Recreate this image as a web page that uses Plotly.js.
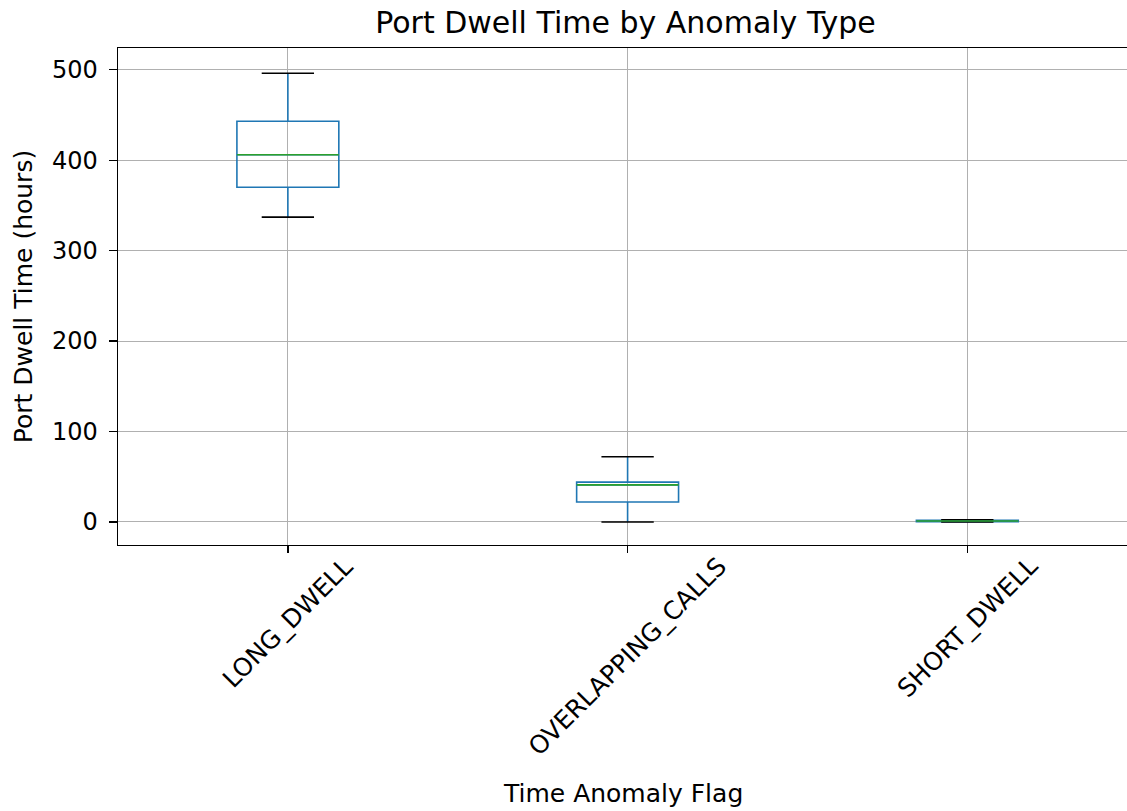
<!DOCTYPE html>
<html>
<head>
<meta charset="utf-8">
<script src="https://cdn.plot.ly/plotly-3.0.1.min.js"></script>
<style>html,body{margin:0;padding:0;overflow:hidden;background:#fff;}</style>
</head>
<body>
<div id="chart" style="width:1127px;height:811px;"></div>
<script>
const categories = ["LONG_DWELL", "OVERLAPPING_CALLS", "SHORT_DWELL"];
const lowerWhisker = [337, 0, 0];
const q1Values = [370, 22, 0.3];
const medianValues = [406, 41, 1.0];
const q3Values = [443, 44, 1.8];
const upperWhisker = [496, 72, 2.5];
const yTicks = [0, 100, 200, 300, 400, 500];

const pos = categories.map((c, i) => i);
const boxHalf = 0.15;
const capHalf = 0.077;

const traces = [];
traces.push({
  type: "box",
  x: pos,
  q1: q1Values,
  median: medianValues,
  q3: q3Values,
  lowerfence: lowerWhisker,
  upperfence: upperWhisker,
  width: boxHalf * 2,
  whiskerwidth: 0,
  line: {color: "#1f77b4", width: 1.6},
  fillcolor: "rgba(0,0,0,0)",
  boxpoints: false,
  hoverinfo: "skip",
  showlegend: false
});

// caps (black)
const capX = [], capY = [];
pos.forEach((p, i) => {
  [lowerWhisker[i], upperWhisker[i]].forEach(v => {
    capX.push(p - capHalf, p + capHalf, null);
    capY.push(v, v, null);
  });
});
traces.push({type: "scatter", mode: "lines", x: capX, y: capY,
  line: {color: "#000000", width: 1.6}, showlegend: false, hoverinfo: "skip"});

// medians (green)
const medX = [], medY = [];
pos.forEach((p, i) => {
  medX.push(p - boxHalf, p + boxHalf, null);
  medY.push(medianValues[i], medianValues[i], null);
});
traces.push({type: "scatter", mode: "lines", x: medX, y: medY,
  line: {color: "#2ca02c", width: 1.6}, showlegend: false, hoverinfo: "skip"});

const font = "DejaVu Sans, sans-serif";
const tickSize = 24, xTickSize = 25, labelSize = 25;

const annotations = categories.map((c, i) => ({
  x: pos[i], xref: "x", y: -0.008, yref: "paper",
  text: c, textangle: -45, showarrow: false,
  xanchor: "center", yanchor: "top",
  font: {family: font, size: xTickSize, color: "#000"}
}));
annotations.push({
  x: 0.5, xref: "paper", y: -0.499, yref: "paper",
  text: "Time Anomaly Flag", showarrow: false,
  xanchor: "center", yanchor: "middle",
  font: {family: font, size: labelSize, color: "#000"}
});

const layout = {
  width: 1127, height: 811,
  margin: {l: 118, r: 0, t: 48, b: 266, pad: 0},
  paper_bgcolor: "#ffffff", plot_bgcolor: "#ffffff",
  font: {family: font, color: "#000000", size: tickSize},
  title: {text: "Port Dwell Time by Anomaly Type", font: {family: font, size: 30, color: "#000"},
          x: 0.555, xanchor: "center", y: 0.972, yanchor: "middle"},
  annotations: annotations,
  xaxis: {
    range: [-0.5, 2.47], tickvals: pos, ticktext: categories, showticklabels: false,
    showgrid: true, gridcolor: "#b0b0b0", gridwidth: 1,
    showline: true, linecolor: "#000", linewidth: 1.4, mirror: true,
    ticks: "outside", ticklen: 7, tickcolor: "#000", tickwidth: 1.3,
    zeroline: false
  },
  yaxis: {
    range: [-25.5, 524], tickvals: yTicks,
    showgrid: true, gridcolor: "#b0b0b0", gridwidth: 1,
    showline: true, linecolor: "#000", linewidth: 1.4, mirror: false,
    ticks: "outside", ticklen: 8, tickcolor: "#000", tickwidth: 1.3,
    ticklabelstandoff: 6,
    tickfont: {family: font, size: tickSize, color: "#000"},
    zeroline: false,
    title: {text: "Port Dwell Time (hours)", font: {family: font, size: labelSize, color: "#000"}, standoff: 12}
  }
};

Plotly.newPlot("chart", traces, layout, {displayModeBar: false, staticPlot: true});
</script>
</body>
</html>
